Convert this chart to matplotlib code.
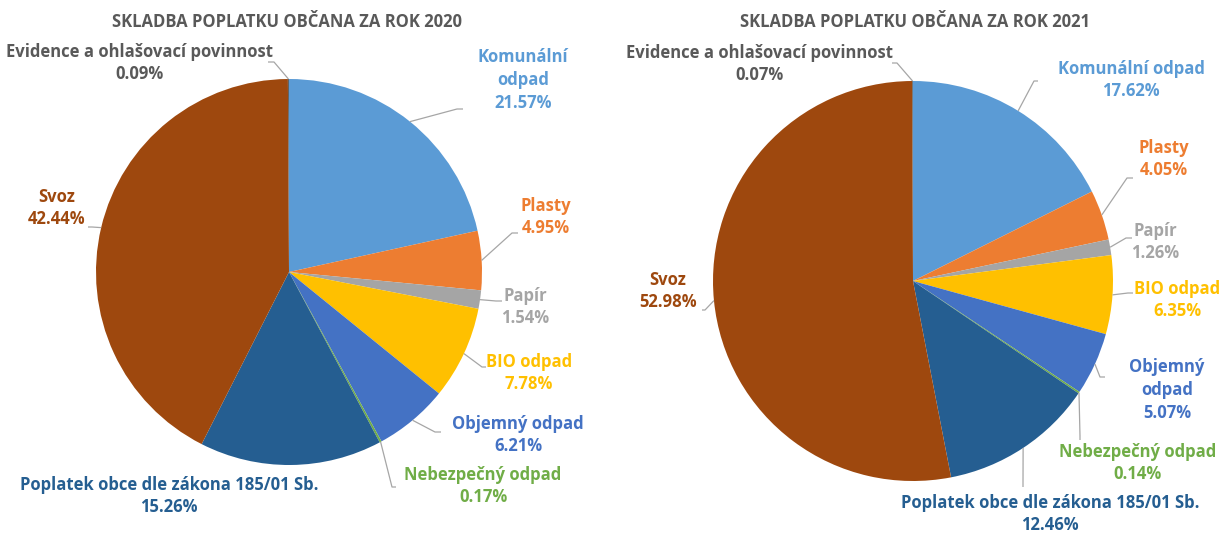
import numpy as np
from matplotlib import pyplot as plt

# slozky poplatku (stejne poradi v obou letech)
colors = ['#5B9BD5', '#ED7D31', '#A5A5A5', '#FFC000', '#4472C4',
          '#70AD47', '#255E91', '#9E480E', '#636363']
text_colors = ['#5B9BD5', '#ED7D31', '#A5A5A5', '#FFC000', '#4472C4',
               '#70AD47', '#255E91', '#9E480E', '#595959']

values_2020 = [21.57, 4.95, 1.54, 7.78, 6.21, 0.17, 15.26, 42.44, 0.09]
values_2021 = [17.62, 4.05, 1.26, 6.35, 5.07, 0.14, 12.46, 52.98, 0.07]

names_2020 = ['Komunální\nodpad', 'Plasty', 'Papír', 'BIO odpad', 'Objemný odpad',
              'Nebezpečný odpad', 'Poplatek obce dle zákona 185/01 Sb.', 'Svoz',
              'Evidence a ohlašovací povinnost']
names_2021 = ['Komunální odpad', 'Plasty', 'Papír', 'BIO odpad', 'Objemný\nodpad',
              'Nebezpečný odpad', 'Poplatek obce dle zákona 185/01 Sb.', 'Svoz',
              'Evidence a ohlašovací povinnost']

titles = ['SKLADBA POPLATKU OBČANA ZA ROK 2020', 'SKLADBA POPLATKU OBČANA ZA ROK 2021']

W, H = 1225, 534
plt.rcParams['font.family'] = ['Open Sans', 'DejaVu Sans']

def px(x, y):
    # pixel souradnice obrazku -> souradnice os
    return (x, H - y)

# rozlozeni: stred, polomer, pozice popisku, body odkazovych car
layout = [
    dict(center=(289, 272), r=193, title_x=287,
         labels=[(523, 80), (546, 217), (525, 307), (529, 373), (518, 435),
                 (483, 486), (169, 496), (57, 208), (140, 63)],
         leaders=[((463, 109), (457, 109)), ((518, 233), (512, 233)),
                  ((502, 301), (496, 301)), ((486, 367), (482, 367)),
                  ((441, 432), (435, 432)), ((396, 487), (392, 487)),
                  None, ((88, 227), (92, 227)), ((268, 62), (274, 62))]),
    dict(center=(913, 281), r=200, title_x=915,
         labels=[(1131, 80), (1164, 159), (1155, 242), (1177, 300), (1167, 390),
                 (1138, 463), (1050, 514), (668, 291), (760, 64)],
         leaders=[((1038, 81), (1034, 81)), ((1133, 178), (1127, 178)),
                  ((1132, 238), (1126, 238)), ((1133, 293), (1128, 293)),
                  ((1105, 377), (1100, 377)), ((1080, 440), (1080, 436)),
                  ((1023, 487), (1023, 483)), ((702, 310), (705, 310)),
                  ((892, 63), (897, 63))]),
]

fig = plt.figure(figsize=(W / 100, H / 100), dpi=100)
ax = fig.add_axes([0, 0, 1, 1])

for vals, names, title, lay in zip([values_2020, values_2021], [names_2020, names_2021],
                                   titles, layout):
    cx, cy = px(*lay['center'])
    wedges, _ = ax.pie(vals, colors=colors, startangle=90, counterclock=False,
                       center=(cx, cy), radius=lay['r'], normalize=True,
                       wedgeprops=dict(linewidth=0))
    ax.text(*px(lay['title_x'], 22), title, ha='center', va='center',
            fontsize=12, fontweight='bold', color='#595959')
    for w, name, v, tc, pos, lead in zip(wedges, names, vals, text_colors,
                                         lay['labels'], lay['leaders']):
        ax.text(*px(*pos), name + '\n' + '%.2f%%' % v, ha='center', va='center',
                fontsize=12, fontweight='bold', color=tc, linespacing=1.35)
        if lead is None:
            continue
        mid = np.deg2rad((w.theta1 + w.theta2) / 2)
        ex = cx + lay['r'] * np.cos(mid)
        ey = cy + lay['r'] * np.sin(mid)
        end = px(*lead[0])
        knee = px(*lead[1])
        ax.plot([end[0], knee[0], ex], [end[1], knee[1], ey],
                color='#A6A6A6', lw=0.9, solid_capstyle='butt')

ax.set_xlim(0, W)
ax.set_ylim(0, H)
ax.set_aspect('equal')
ax.axis('off')
fig.savefig('out.png', dpi=100)
